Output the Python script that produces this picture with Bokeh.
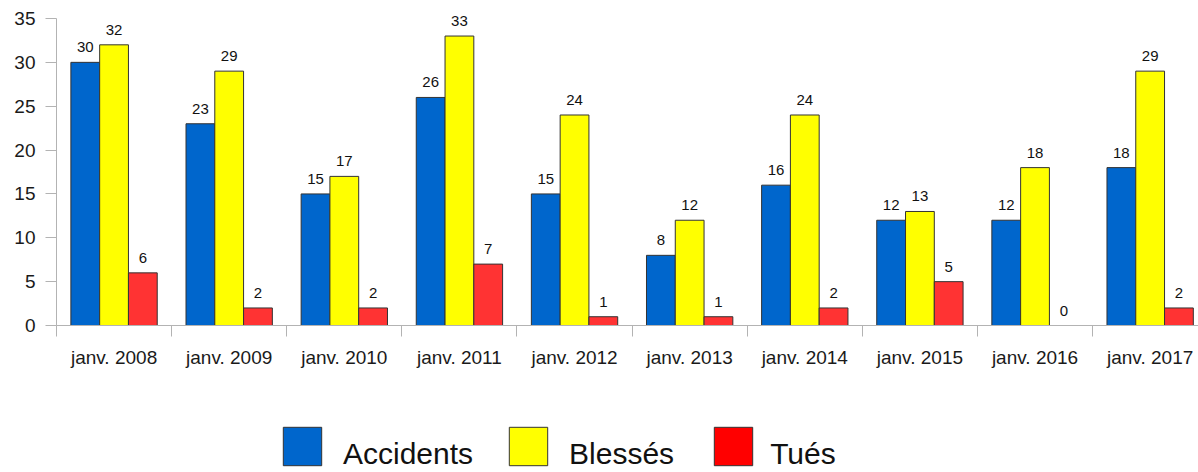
from bokeh.plotting import figure
from bokeh.layouts import column
from bokeh.models import (Range1d, FixedTicker, ColumnDataSource, Legend, LegendItem)
from bokeh.transform import dodge
from bokeh.core.properties import value
from bokeh.embed import file_html
from bokeh.resources import INLINE

categories = ["janv. 2008", "janv. 2009", "janv. 2010", "janv. 2011", "janv. 2012",
              "janv. 2013", "janv. 2014", "janv. 2015", "janv. 2016", "janv. 2017"]
accidents = [30, 23, 15, 26, 15, 8, 16, 12, 12, 18]
blesses = [32, 29, 17, 33, 24, 12, 24, 13, 18, 29]
tues = [6, 2, 2, 7, 1, 1, 2, 5, 0, 2]
y_ticks = [0, 5, 10, 15, 20, 25, 30, 35]
legend_names = ["Accidents", "Blessés", "Tués"]

FONT = "Liberation Sans"
AXIS_GRAY = "#b3b3b3"
BAR_COLORS = ["#0066cc", "#ffff00", "#ff3333"]
LEGEND_COLORS = ["#0066cc", "#ffff00", "#ff0000"]
SWATCH_X = [222, 448, 653]   # legend swatch positions (px, from frame left)

idx = list(range(len(categories)))
src = ColumnDataSource(dict(
    x=idx, acc=accidents, bl=blesses, tu=tues,
    acc_t=[str(v) for v in accidents], bl_t=[str(v) for v in blesses], tu_t=[str(v) for v in tues],
))

# frame: 0..325 px tall; axis top (35) sits 18 px below the frame top
Y_MAX = 35
y_top = Y_MAX + 18 / ((325 - 18) / Y_MAX)

p = figure(width=1198, height=400, output_backend="svg", toolbar_location=None,
           x_range=Range1d(-0.5, 9.42), y_range=Range1d(0, y_top),
           min_border_left=56, min_border_right=0, min_border_top=0, min_border_bottom=75)
p.outline_line_color = None
p.xgrid.visible = False
p.ygrid.visible = False

bw = 0.25
series = [("acc", "acc_t", -0.25), ("bl", "bl_t", 0.0), ("tu", "tu_t", 0.25)]
for (field, tfield, off), col in zip(series, BAR_COLORS):
    p.vbar(x=dodge("x", off), top=field, width=bw, bottom=0, source=src,
           fill_color=col, line_color="#333333", line_width=1)
    p.text(x=dodge("x", off), y=field, text=tfield, source=src,
           text_font=value(FONT), text_font_size="15px", text_color="#111111",
           text_align="center", text_baseline="alphabetic", y_offset=-15)

# Y axis
ya = p.yaxis[0]
ya.ticker = FixedTicker(ticks=y_ticks)
ya.bounds = (0, Y_MAX)
ya.axis_line_color = AXIS_GRAY
ya.major_tick_line_color = AXIS_GRAY
ya.major_tick_out = 11
ya.major_tick_in = 0
ya.minor_tick_line_color = None
ya.major_label_standoff = 10
ya.major_label_text_font = FONT
ya.major_label_text_font_size = "19px"
ya.major_label_text_color = "#1a1a1a"

# X axis
xa = p.xaxis[0]
xa.ticker = FixedTicker(ticks=idx, minor_ticks=[i - 0.5 for i in range(len(categories) + 1)])
xa.major_label_overrides = {i: c for i, c in zip(idx, categories)}
xa.axis_line_color = AXIS_GRAY
xa.major_tick_line_color = None
xa.major_tick_out = 0
xa.major_tick_in = 0
xa.minor_tick_line_color = AXIS_GRAY
xa.minor_tick_out = 11
xa.minor_tick_in = 0
xa.major_label_standoff = 10
xa.major_label_text_font = FONT
xa.major_label_text_font_size = "19px"
xa.major_label_text_color = "#1a1a1a"

# Legend figure: swatch-only legends, plus one labels legend placed 8 px lower
lf = figure(width=1198, height=72, output_backend="svg", toolbar_location=None,
            x_range=Range1d(0, 1), y_range=Range1d(0, 1),
            min_border=0, min_border_left=0, min_border_right=0, min_border_top=0, min_border_bottom=0)
lf.axis.visible = False
lf.grid.visible = False
lf.outline_line_color = None

common = dict(orientation="horizontal", glyph_width=48, glyph_height=48,
              padding=0, margin=0, border_line_color=None, background_fill_alpha=0,
              inactive_fill_alpha=0, label_text_font=FONT, label_text_font_size="30px",
              label_height=48)

label_items = []
for name, col, vals, sx in zip(legend_names, LEGEND_COLORS, [accidents, blesses, tues], SWATCH_X):
    r = lf.vbar(x=idx, top=vals, width=bw, fill_color=col, line_color="#333333", line_width=1,
                visible=False)
    r_blank = lf.vbar(x=idx, top=vals, width=bw, fill_alpha=0, line_alpha=0, visible=False)
    sw = Legend(items=[LegendItem(label=value(""), renderers=[r])], location=(sx, 2),
                label_standoff=0, spacing=0, **common)
    lf.add_layout(sw, "center")
    label_items.append(LegendItem(label=name, renderers=[r_blank]))

label_legend = Legend(items=label_items, location=(222, -5.5), label_standoff=17, spacing=31,
                      label_text_color="#111111", **common)
lf.add_layout(label_legend, "center")

layout = column(p, lf, spacing=0)
open("out.html", "w").write(file_html(layout, INLINE))
